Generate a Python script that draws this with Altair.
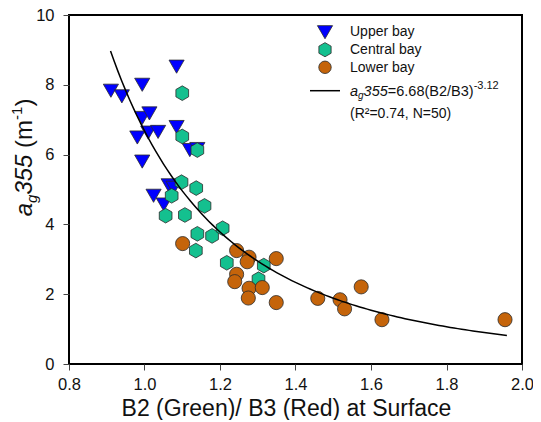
import altair as alt
import pandas as pd

# ---------------- data ----------------
SITES = ["Upper bay", "Central bay", "Lower bay"]

UPPER_X = [0.911, 0.940, 0.994, 1.085, 0.994, 1.013, 0.981, 1.010, 1.036, 1.085,
           0.994, 1.120, 1.140, 1.064, 1.077, 1.024, 1.051]
UPPER_Y = [7.83, 7.67, 8.00, 8.52, 7.05, 7.18, 6.49, 6.63, 6.65, 6.79,
           5.80, 6.13, 6.16, 5.12, 5.05, 4.82, 4.57]

CENTRAL_X = [1.100, 1.100, 1.140, 1.098, 1.137, 1.072, 1.159, 1.056, 1.107, 1.140,
             1.179, 1.207, 1.136, 1.218, 1.316, 1.302]
CENTRAL_Y = [7.76, 6.52, 6.13, 5.21, 5.04, 4.82, 4.53, 4.25, 4.27, 3.73,
             3.67, 3.89, 3.25, 2.90, 2.82, 2.43]

LOWER_X = [1.101, 1.244, 1.277, 1.272, 1.349, 1.244, 1.239, 1.277, 1.275, 1.312,
           1.349, 1.459, 1.518, 1.530, 1.574, 1.629, 1.955]
LOWER_Y = [3.45, 3.25, 3.06, 2.93, 3.02, 2.57, 2.36, 2.17, 1.89, 2.19,
           1.76, 1.88, 1.84, 1.58, 2.21, 1.27, 1.27]

X_TICKS = [0.8, 1.0, 1.2, 1.4, 1.6, 1.8, 2.0]
Y_TICKS = [0, 2, 4, 6, 8, 10]

# fitted model printed in the legend: a_g355 = 6.68 (B2/B3)^-3.12
FIT_A = 6.68
FIT_B = -3.12
FIT_EXTENT = [0.91, 1.96]

X_TITLE = "B2 (Green)/ B3 (Red) at Surface"
EQ_R2 = "(R\u00b2=0.74, N=50)"

# ---------------- style ----------------
FONT = "Liberation Sans"
HEX = "M0,-1L0.866,-0.5L0.866,0.5L0,1L-0.866,0.5L-0.866,-0.5Z"
SHAPES = ["triangle-down", HEX, "circle"]
COLORS = ["#0000ff", "#14c08f", "#c5640a"]
SIZES = [230, 200, 155]
EDGE = "#2b2b2b"

PLOT_W = 453
PLOT_H = 349

df = pd.DataFrame({
    "ratio": UPPER_X + CENTRAL_X + LOWER_X,
    "ag": UPPER_Y + CENTRAL_Y + LOWER_Y,
    "site": [SITES[0]] * len(UPPER_X) + [SITES[1]] * len(CENTRAL_X) + [SITES[2]] * len(LOWER_X),
})

x_scale = alt.Scale(domain=[0.8, 2.0], nice=False, zero=False)
y_scale = alt.Scale(domain=[0, 10], nice=False)

x_axis = alt.Axis(values=X_TICKS, format=".1f", title=X_TITLE, titleFont=FONT,
                  titleFontSize=23, titleFontWeight="normal", titleColor="#111111",
                  titleX=217, titleY=51, titleAlign="center", titleBaseline="alphabetic",
                  labelPadding=6, labelFlush=False)
y_axis = alt.Axis(values=Y_TICKS, format="d", title=None, labelPadding=9, labelFlush=False)

points = alt.Chart(df).mark_point(filled=True, opacity=1, stroke=EDGE, strokeWidth=0.8).encode(
    x=alt.X("ratio:Q", scale=x_scale, axis=x_axis),
    y=alt.Y("ag:Q", scale=y_scale, axis=y_axis),
    shape=alt.Shape("site:N", scale=alt.Scale(domain=SITES, range=SHAPES), legend=None),
    color=alt.Color("site:N", scale=alt.Scale(domain=SITES, range=COLORS), legend=None),
    size=alt.Size("site:N", scale=alt.Scale(domain=SITES, range=SIZES), legend=None),
)

fit = alt.Chart(alt.sequence(FIT_EXTENT[0], FIT_EXTENT[1] + 0.001, 0.01, as_="ratio")).transform_calculate(
    ag=f"{FIT_A} * pow(datum.ratio, {FIT_B})"
).mark_line(color="black", strokeWidth=1.5).encode(
    x=alt.X("ratio:Q", scale=x_scale),
    y=alt.Y("ag:Q", scale=y_scale),
)

one = alt.Data(values=[{"k": 0}])
layers = [points, fit]

# ---------------- legend ----------------
LEG_SYM_X = 256
LEG_TXT_X = 281
SYM_Y = [17.2, 34.7, 52.3]
TXT_Y = [21.0, 39.0, 57.0]
for i, site in enumerate(SITES):
    layers.append(alt.Chart(one).mark_point(
        filled=True, opacity=1, shape=SHAPES[i], color=COLORS[i], size=SIZES[i],
        stroke=EDGE, strokeWidth=0.8).encode(x=alt.value(LEG_SYM_X), y=alt.value(SYM_Y[i])))
    layers.append(alt.Chart(one).mark_text(
        text=site, align="left", baseline="alphabetic", font=FONT, fontSize=14,
        color="#111111").encode(x=alt.value(LEG_TXT_X), y=alt.value(TXT_Y[i])))

layers.append(alt.Chart(one).mark_rule(color="black", strokeWidth=1.5).encode(
    x=alt.value(241), x2=alt.value(271), y=alt.value(75.7)))

W = {'a': 556, 'g': 556, '3': 556, '5': 556, '=': 584, '6': 556, '.': 278, '8': 556,
     '(': 333, 'B': 667, '2': 556, '/': 278, ')': 333, '-': 333, '1': 556, ' ': 278,
     'm': 833}


def seg_width(t, size):
    return sum(W.get(c, 556) for c in t) * size / 1000.0


# equation: a_g355=6.68(B2/B3)^-3.12
EQ_BASE = 81
eq_segments = [("a", 14.5, "italic", 0), ("g", 10, "italic", 3), ("355", 14.5, "italic", 0),
               (f"={FIT_A:.2f}(B2/B3)", 14.5, "normal", 0), (f"{FIT_B:.2f}", 11, "normal", -7)]
cx = LEG_TXT_X
for t, s, st, dy in eq_segments:
    layers.append(alt.Chart(one).mark_text(
        text=t, align="left", baseline="alphabetic", font=FONT, fontSize=s, fontStyle=st,
        color="#111111").encode(x=alt.value(cx), y=alt.value(EQ_BASE + dy)))
    cx += seg_width(t, s)

layers.append(alt.Chart(one).mark_text(
    text=EQ_R2, align="left", baseline="alphabetic", font=FONT, fontSize=14,
    color="#111111").encode(x=alt.value(LEG_TXT_X), y=alt.value(102.5)))

# ---------------- rotated y title: a_g355 (m^-1) ----------------
YT_X = -37
# (text, size, style, baseline shift, leading gap in em of the main size)
yt_segments = [("a", 24, "italic", 0, 0), ("g", 15, "italic", 5, 0), ("355", 24, "italic", 0, 0),
               ("(m", 24, "normal", 0, 0.278), ("-1", 15, "normal", -10, 0), (")", 24, "normal", 0, 0)]
cy = 201.3
for t, s, st, dx, gap in yt_segments:
    cy -= gap * 24
    layers.append(alt.Chart(one).mark_text(
        text=t, align="left", baseline="alphabetic", angle=270, font=FONT, fontSize=s,
        fontStyle=st, color="#111111").encode(x=alt.value(YT_X + dx), y=alt.value(cy)))
    cy -= seg_width(t, s)

chart = alt.layer(*layers).properties(
    width=PLOT_W, height=PLOT_H,
    autosize=alt.AutoSizeParams(type="none"),
    padding={"left": 61, "top": 7, "right": 11, "bottom": 56},
    background="white",
).configure_view(
    stroke="black", strokeWidth=2
).configure_axis(
    domain=False, grid=False, tickSize=6, tickColor="#444444", tickWidth=1,
    labelFont=FONT, labelFontSize=16.5, labelColor="#111111"
)

chart.save("out.html", embed_options={"renderer": "svg", "actions": False})
